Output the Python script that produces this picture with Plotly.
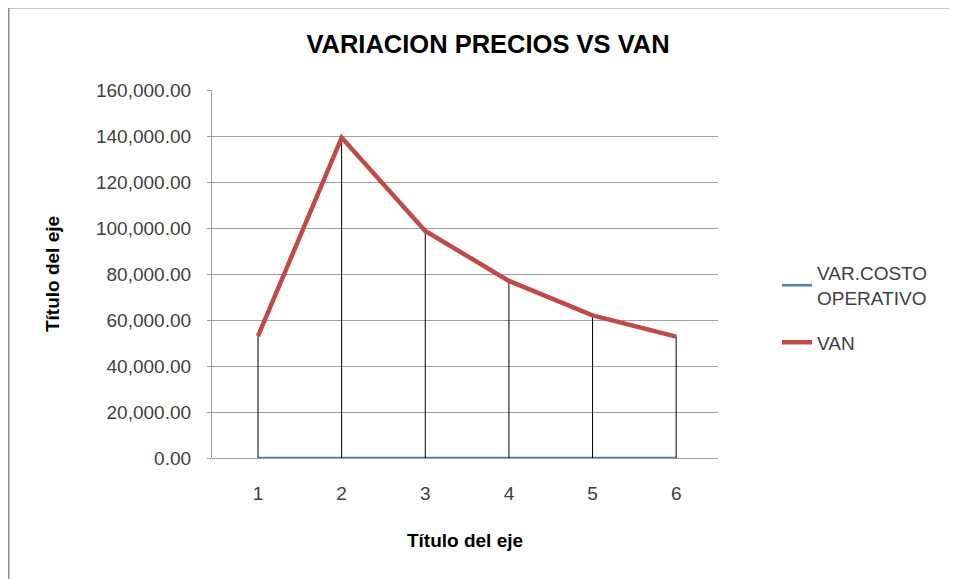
import plotly.graph_objects as go

categories = [1, 2, 3, 4, 5, 6]
var_costo = [0, 0, 0, 0, 0, 0]
van = [53000, 139300, 98700, 77000, 62000, 52800]
y_ticks = [0, 20000, 40000, 60000, 80000, 100000, 120000, 140000, 160000]

W, H = 957, 579
OFF = 8  # page offset of the rendered figure
L, T = 212 - OFF, 90 - OFF
pw, ph = 506, 368
R, B = W - L - pw, H - T - ph

def px(xp):
    return (xp - OFF - L) / pw

def py(yp):
    return (T + ph - (yp - OFF)) / ph

fig = go.Figure()
fig.add_trace(go.Scatter(
    x=categories, y=var_costo, mode="lines", name="VAR.COSTO<br>OPERATIVO",
    legendgroup="g1",
    line=dict(color="#4a7ebb", width=2.5),
))
fig.add_trace(go.Scatter(
    x=categories, y=van, mode="lines", name="VAN",
    legendgroup="g2",
    line=dict(color="#be4b48", width=4.5),
    error_y=dict(type="data", symmetric=False, array=[0] * len(van), arrayminus=van,
                 color="black", thickness=1, width=0),
))

font = "Liberation Sans, Arial, sans-serif"
fig.update_layout(
    width=W, height=H,
    margin=dict(l=L, r=R, t=T, b=B),
    paper_bgcolor="white", plot_bgcolor="white",
    font=dict(family=font, color="#404040", size=19),
    title=dict(text="<b>VARIACION PRECIOS VS VAN</b>", x=(488 - OFF) / W, xref="container",
               xanchor="center", y=1 - (44 - OFF) / H, yref="container", yanchor="middle",
               font=dict(family=font, size=25.5, color="black")),
    showlegend=True,
    legend=dict(x=px(777), xanchor="left", y=py(254), yanchor="top",
                font=dict(family=font, size=19, color="#404040"),
                bgcolor="rgba(0,0,0,0)", traceorder="grouped", tracegroupgap=17),
    shapes=[
        dict(type="line", xref="paper", yref="paper", x0=px(8), x1=px(8), y0=py(6), y1=py(H + 20),
             line=dict(color="#8c8c8c", width=3)),
        dict(type="line", xref="paper", yref="paper", x0=px(7), x1=px(W + 20), y0=py(7), y1=py(7),
             line=dict(color="#8c8c8c", width=3)),
    ],
)
fig.update_xaxes(
    range=[0.45, 6.5], tickmode="array", tickvals=categories, ticktext=[str(c) for c in categories],
    showgrid=False, zeroline=False, showline=False, ticks="",
    ticklabelstandoff=22,
    title=dict(text="<b>Título del eje</b>", font=dict(family=font, size=19, color="black"), standoff=30),
)
fig.update_yaxes(
    range=[0, 160000], tickmode="array", tickvals=y_ticks,
    ticktext=[f"{v:,.2f}" for v in y_ticks],
    showgrid=True, gridcolor="#a0a0a0", gridwidth=1.3,
    zeroline=True, zerolinecolor="#a0a0a0", zerolinewidth=1.3,
    showline=True, linecolor="#a0a0a0", linewidth=1.3,
    ticks="outside", ticklen=4, tickcolor="#a0a0a0",
    ticklabelstandoff=12,
    title=dict(text="<b>Título del eje</b>", font=dict(family=font, size=19, color="black"), standoff=31),
)

fig.write_html("out.html")
